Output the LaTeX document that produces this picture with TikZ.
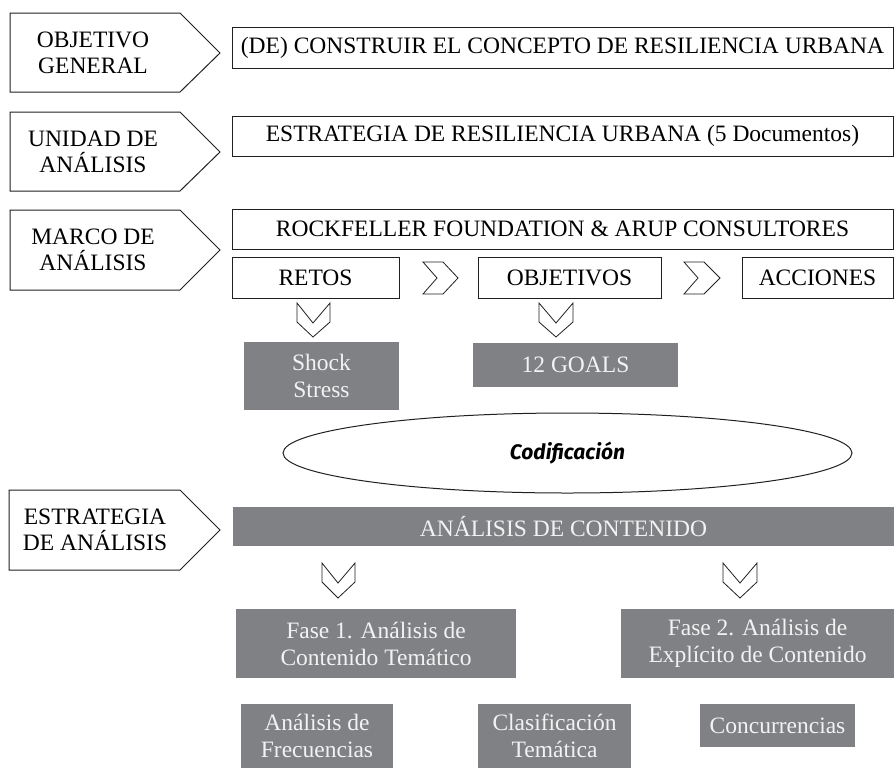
\documentclass[tikz,border=0pt]{standalone}
\usepackage{fontspec}
\setmainfont{Liberation Serif}
\newfontfamily\codiffont{Fira Sans}
\usetikzlibrary{shapes.geometric}

\definecolor{boxgray}{RGB}{128,129,133}
\definecolor{linegray}{RGB}{35,31,32}

\tikzset{
    frame/.style={draw=linegray, line width=1pt},
    whitebox/.style={frame, fill=white, minimum height=41pt, inner sep=0pt, font=\fontsize{23.5}{26}\selectfont},
    graybox/.style={fill=boxgray, text=white!95!black, inner sep=0pt, align=center, font=\fontsize{23.5}{27}\selectfont},
    tag/.style={align=center, font=\fontsize{23.5}{26}\selectfont},
    chev/.style={draw=linegray, line width=0.8pt, line join=miter},
}

\begin{document}
\begin{tikzpicture}[x=1pt, y=-1pt]
        \useasboundingbox (0,0) rectangle (894,769);

        % etiquetas de la izquierda
        \draw[frame] (10,13) -- (180,13) -- (220,53) -- (180,92) -- (10,92) -- cycle;
        \node[tag] (objetivo) at (93,53) {OBJETIVO\\GENERAL};
        \draw[frame] (10,112) -- (180,112) -- (220,152) -- (180,191) -- (10,191) -- cycle;
        \node[tag] (unidad) at (93,152) {UNIDAD DE\\ANÁLISIS};
        \draw[frame] (10,210) -- (180,210) -- (220,250) -- (180,290) -- (10,290) -- cycle;
        \node[tag] (marco) at (93,250) {MARCO DE\\ANÁLISIS};
        \draw[frame] (9,490) -- (180,490) -- (220,530) -- (180,570) -- (9,570) -- cycle;
        \node[tag] (estrategia) at (95,530) {ESTRATEGIA\\DE ANÁLISIS};

        % cajas blancas
        \node[whitebox, minimum width=661pt] (construir) at (562.5,47.5) {(DE) CONSTRUIR EL CONCEPTO DE RESILIENCIA URBANA};
        \node[whitebox, minimum width=661pt, minimum height=40pt] (resiliencia) at (562.5,136) {ESTRATEGIA DE RESILIENCIA URBANA (5 Documentos)};
        \node[whitebox, minimum width=661pt, minimum height=40pt] (rockefeller) at (562.5,229) {ROCKFELLER FOUNDATION \& ARUP CONSULTORES};
        \node[whitebox, minimum width=167pt] (retos) at (315.5,277.5) {RETOS};
        \node[whitebox, minimum width=183pt] (objetivos) at (569.5,277.5) {OBJETIVOS};
        \node[whitebox, minimum width=151pt] (acciones) at (817.5,277.5) {ACCIONES};

        % flechas
        \draw[chev] (423,262) -- (443,262) -- (458,278) -- (443,294) -- (423,294) -- (437,278) -- cycle;
        \draw[chev] (684,262) -- (704,262) -- (720,278) -- (704,294) -- (684,294) -- (698,278) -- cycle;
        \draw[chev] (297,303) -- (313,323) -- (330,303) -- (330,322) -- (313,337) -- (297,322) -- cycle;
        \draw[chev] (539,303) -- (556,323) -- (573,303) -- (573,322) -- (556,337) -- (539,322) -- cycle;

        \node[graybox, minimum width=155pt, minimum height=68pt] (shock) at (321.5,376) {Shock\\Stress};
        \node[graybox, minimum width=205pt, minimum height=44pt] (goals) at (575.5,365) {12 GOALS};

        \node[ellipse, frame, minimum width=569pt, minimum height=80pt, inner sep=0pt,
              font=\codiffont\bfseries\itshape\fontsize{21}{24}\selectfont] (codif) at (567.5,453) {Codificación};

        % analisis
        \node[graybox, minimum width=661pt, minimum height=39pt] (contenido) at (563.5,526.5) {ANÁLISIS DE CONTENIDO};
        \draw[chev] (322,563) -- (338,583) -- (355,563) -- (355,582) -- (338,598) -- (322,582) -- cycle;
        \draw[chev] (723,563) -- (740,583) -- (757,563) -- (757,582) -- (740,598) -- (723,582) -- cycle;

        \node[graybox, minimum width=280pt, minimum height=69pt] (fase1) at (376,643.5) {Fase 1. Análisis de\\Contenido Temático};
        \node[graybox, minimum width=273pt, minimum height=69pt] (fase2) at (757.5,643.5) {Fase 2. Análisis de\\Explícito de Contenido};

        \node[graybox, minimum width=152pt, minimum height=64pt] (frecuencias) at (317,736) {Análisis de\\Frecuencias};
        \node[graybox, minimum width=153pt, minimum height=64pt] (clasif) at (554.5,736) {Clasificación\\Temática};
        \node[graybox, minimum width=155pt, minimum height=43pt] (concurr) at (777.5,725.5) {Concurrencias};
    \end{tikzpicture}
\end{document}
